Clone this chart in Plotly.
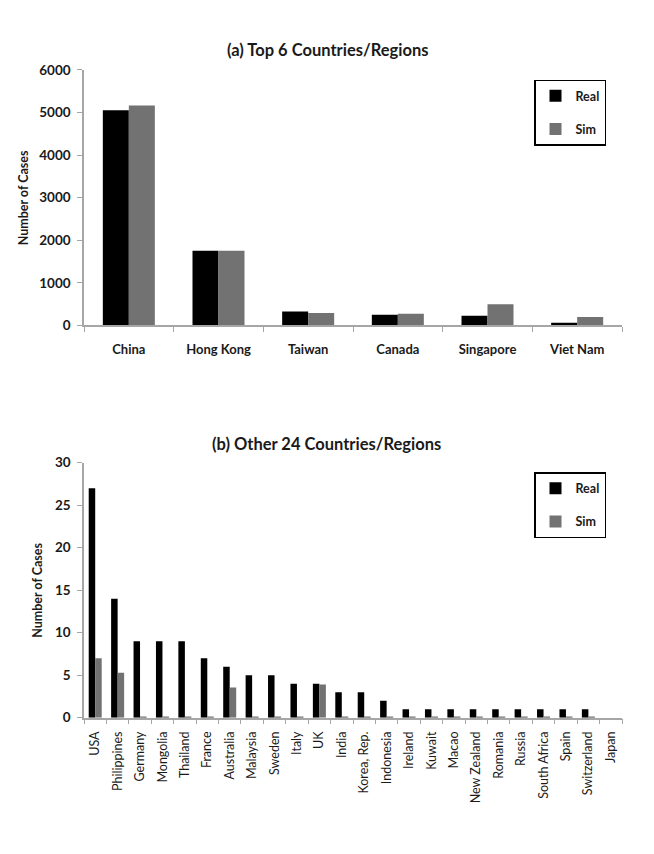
import plotly.graph_objects as go

top_countries = ["China", "Hong Kong", "Taiwan", "Canada", "Singapore", "Viet Nam"]
top_real = [5050, 1755, 330, 251, 225, 63]
top_sim = [5160, 1755, 290, 275, 500, 200]

other_countries = ["USA", "Philippines", "Germany", "Mongolia", "Thailand", "France",
                   "Australia", "Malaysia", "Sweden", "Italy", "UK", "India",
                   "Korea, Rep.", "Indonesia", "Ireland", "Kuwait", "Macao", "New Zealand",
                   "Romania", "Russia", "South Africa", "Spain", "Switzerland", "Japan"]
other_real = [27, 14, 9, 9, 9, 7, 6, 5, 5, 4, 4, 3, 3, 2, 1, 1, 1, 1, 1, 1, 1, 1, 1, 0]
other_sim = [7, 5.3, 0.1, 0.02, 0.1, 0.1, 3.55, 0.1, 0.1, 0.1, 3.9, 0.02,
             0.02, 0.02, 0.05, 0.02, 0.02, 0.02, 0.05, 0.02, 0.02, 0.05, 0.05, 0.0]

REAL_C = "#000000"
SIM_C = "#727272"
FONT = "Lato"
TXT = "#1a1a1a"

fig = go.Figure()
fig.add_bar(x=top_countries, y=top_real, name="Real", marker_color=REAL_C,
            marker_line_width=0, xaxis="x", yaxis="y", legend="legend", legendgroup="a1")
fig.add_bar(x=top_countries, y=top_sim, name="Sim", marker_color=SIM_C,
            marker_line_width=0, xaxis="x", yaxis="y", legend="legend", legendgroup="a2")
fig.add_bar(x=other_countries, y=other_real, name="Real", marker_color=REAL_C,
            marker_line_width=0, xaxis="x2", yaxis="y2", legend="legend2", legendgroup="b1")
fig.add_bar(x=other_countries, y=other_sim, name="Sim", marker_color=SIM_C,
            marker_line_width=0, xaxis="x2", yaxis="y2", legend="legend2", legendgroup="b2")

W, H = 654, 854
x0, x1 = 84 / W, 622 / W
axis_col = "#A6A6A6"


def py(v):
    # pixel row (from top) -> paper fraction
    return (H - v) / H


common_x = dict(showline=True, linecolor=axis_col, linewidth=1.5, ticks="outside",
                tickcolor=axis_col, ticklen=5, tickson="boundaries", showgrid=False,
                zeroline=False, domain=[x0, x1])
common_y = dict(showline=True, linecolor=axis_col, linewidth=1.5, ticks="outside",
                tickcolor=axis_col, ticklen=5, showgrid=False, zeroline=False,
                ticklabelstandoff=4)

legend_common = dict(xanchor="right", yanchor="top",
                     bordercolor="#000000", borderwidth=1.5, bgcolor="white",
                     font=dict(family=FONT, size=12.5, weight="bold", color=TXT),
                     tracegroupgap=14, itemwidth=30)

fig.update_layout(
    width=W, height=H,
    margin=dict(l=0, r=0, t=0, b=0),
    paper_bgcolor="white", plot_bgcolor="white",
    barmode="group", bargap=0.42, bargroupgap=0,
    font=dict(family=FONT, color=TXT, size=11),
    xaxis=dict(**common_x, anchor="y", ticklabelstandoff=11,
               tickfont=dict(family=FONT, size=13, color=TXT, weight="bold")),
    yaxis=dict(**common_y, domain=[py(323.5), py(63)], range=[0, 6000],
               dtick=1000, anchor="x",
               tickfont=dict(family=FONT, size=13.5, color=TXT, weight="bold")),
    xaxis2=dict(**common_x, anchor="y2", tickangle=-90, ticklabelstandoff=7,
                tickfont=dict(family=FONT, size=12.5, color=TXT)),
    yaxis2=dict(**common_y, domain=[py(723.3), py(463.3)], range=[0, 30],
                dtick=5, anchor="x2",
                tickfont=dict(family=FONT, size=13.5, color=TXT, weight="bold")),
    legend=dict(**legend_common, x=606 / W, y=py(73)),
    legend2=dict(**legend_common, x=606 / W, y=py(473)),
    showlegend=True,
)

ann = dict(xref="paper", yref="paper", showarrow=False, xanchor="center", yanchor="middle")
fig.add_annotation(text="<b>(a) Top 6 Countries/Regions</b>", x=327.5 / W, y=py(43),
                   font=dict(family=FONT, size=16.5, color=TXT), **ann)
fig.add_annotation(text="<b>(b) Other 24 Countries/Regions</b>", x=326.5 / W, y=py(444),
                   font=dict(family=FONT, size=16.5, color=TXT), **ann)
fig.add_annotation(text="<b>Number of Cases</b>", x=23 / W, y=py(194), textangle=-90,
                   font=dict(family=FONT, size=12.5, color=TXT), **ann)
fig.add_annotation(text="<b>Number of Cases</b>", x=38 / W, y=py(594), textangle=-90,
                   font=dict(family=FONT, size=12.5, color=TXT), **ann)

fig.write_html("out.html", config={"displayModeBar": False},
               post_script="document.body.style.margin='0';document.body.style.overflow='hidden';")
